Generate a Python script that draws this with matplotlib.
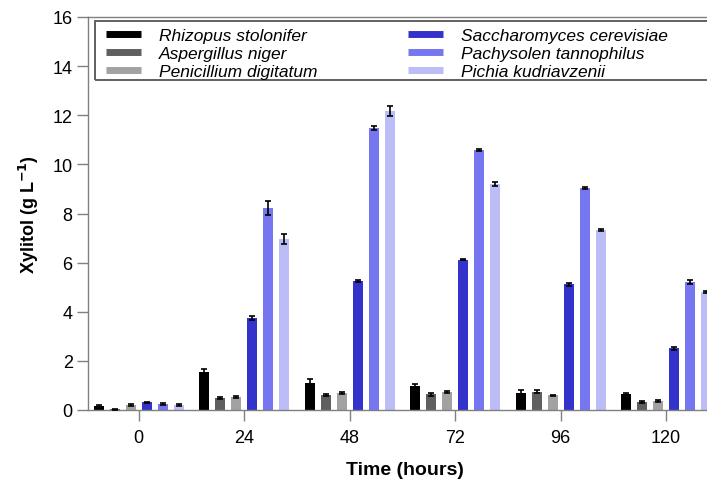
import matplotlib
matplotlib.use("Agg")
import matplotlib.pyplot as plt
from matplotlib.lines import Line2D
from matplotlib.patches import Rectangle
import numpy as np

plt.rcParams['font.family'] = ['Liberation Sans', 'DejaVu Sans']

times = ["0", "24", "48", "72", "96", "120"]
species = ["Rhizopus stolonifer", "Aspergillus niger", "Penicillium digitatum",
           "Saccharomyces cerevisiae", "Pachysolen tannophilus", "Pichia kudriavzenii"]
colors = ["#000000", "#5f5f5f", "#a2a2a2", "#3333cc", "#7676f0", "#bcbcf6"]

rhizopus = [0.18, 1.53, 1.10, 0.96, 0.68, 0.64]
aspergillus = [0.04, 0.48, 0.61, 0.64, 0.75, 0.34]
penicillium = [0.21, 0.54, 0.69, 0.75, 0.60, 0.36]
saccharomyces = [0.31, 3.74, 5.26, 6.12, 5.11, 2.51]
pachysolen = [0.24, 8.22, 11.47, 10.58, 9.04, 5.21]
pichia = [0.21, 6.95, 12.17, 9.20, 7.33, 4.80]

rhizopus_err = [0.04, 0.13, 0.15, 0.10, 0.12, 0.05]
aspergillus_err = [0.02, 0.05, 0.05, 0.05, 0.05, 0.04]
penicillium_err = [0.03, 0.05, 0.04, 0.04, 0.03, 0.04]
saccharomyces_err = [0.03, 0.08, 0.05, 0.03, 0.05, 0.05]
pachysolen_err = [0.04, 0.30, 0.08, 0.04, 0.05, 0.08]
pichia_err = [0.03, 0.20, 0.20, 0.10, 0.04, 0.05]

values = [rhizopus, aspergillus, penicillium, saccharomyces, pachysolen, pichia]
errors = [rhizopus_err, aspergillus_err, penicillium_err, saccharomyces_err,
          pachysolen_err, pichia_err]

W, H = 707, 481
fig = plt.figure(figsize=(W / 100, H / 100), dpi=100)
# axes runs to the right edge of the figure (the chart is cut off there)
ax = fig.add_axes([88 / W, (H - 411) / H, (W - 88) / W, 393 / H])

x = np.arange(len(times))
step = 0.1517
width = 0.097
for i, (vals, errs, c) in enumerate(zip(values, errors, colors)):
    pos = x + (i - 2.5) * step
    ax.bar(pos, vals, width=width, color=c, zorder=2)
    ax.errorbar(pos, vals, yerr=errs, fmt='none', ecolor='black',
                elinewidth=1.2, capsize=2.5, capthick=1.2, zorder=3)

group_px = 105.5
ax.set_xlim(-0.48, -0.48 + (W - 88) / group_px)
ax.set_ylim(0, 16)
ax.set_yticks(np.arange(0, 17, 2))
ax.set_xticks(x)
ax.set_xticklabels(times)

for s in ax.spines.values():
    s.set_color('#808080')
    s.set_linewidth(1.0)
ax.spines['right'].set_visible(False)
ax.tick_params(axis='both', direction='out', length=8, width=1.0,
               color='#808080', labelsize=13, labelcolor='black')
ax.tick_params(axis='x', pad=6)
ax.tick_params(axis='y', pad=3)

ax.set_xlabel("Time (hours)", fontsize=14, fontweight='bold')
ax.xaxis.set_label_coords((404.5 - 88) / (W - 88), (411 - 462) / 393)
ax.set_ylabel("Xylitol (g L$^{\\mathbf{-1}}$)", fontsize=13, fontweight='bold', labelpad=8)

handles = [Line2D([0], [0], color=c, lw=5, solid_capstyle='butt') for c in colors]
leg = ax.legend(handles, species, loc='upper left',
                bbox_to_anchor=((101 - 88) / (W - 88), 0.985),
                ncol=2, frameon=False, prop={'style': 'italic', 'size': 12.5},
                handlelength=2.0, handletextpad=1.05, labelspacing=0.15,
                columnspacing=5.2, borderpad=0.3, borderaxespad=0.0)
ax.add_patch(Rectangle(((95 - 88) / (W - 88), (411 - 81) / 393), 1.2, (81 - 22) / 393,
                       transform=ax.transAxes, fill=False, edgecolor='#606060',
                       lw=1.4, clip_on=False, zorder=5))

fig.savefig("out.png", dpi=100)
